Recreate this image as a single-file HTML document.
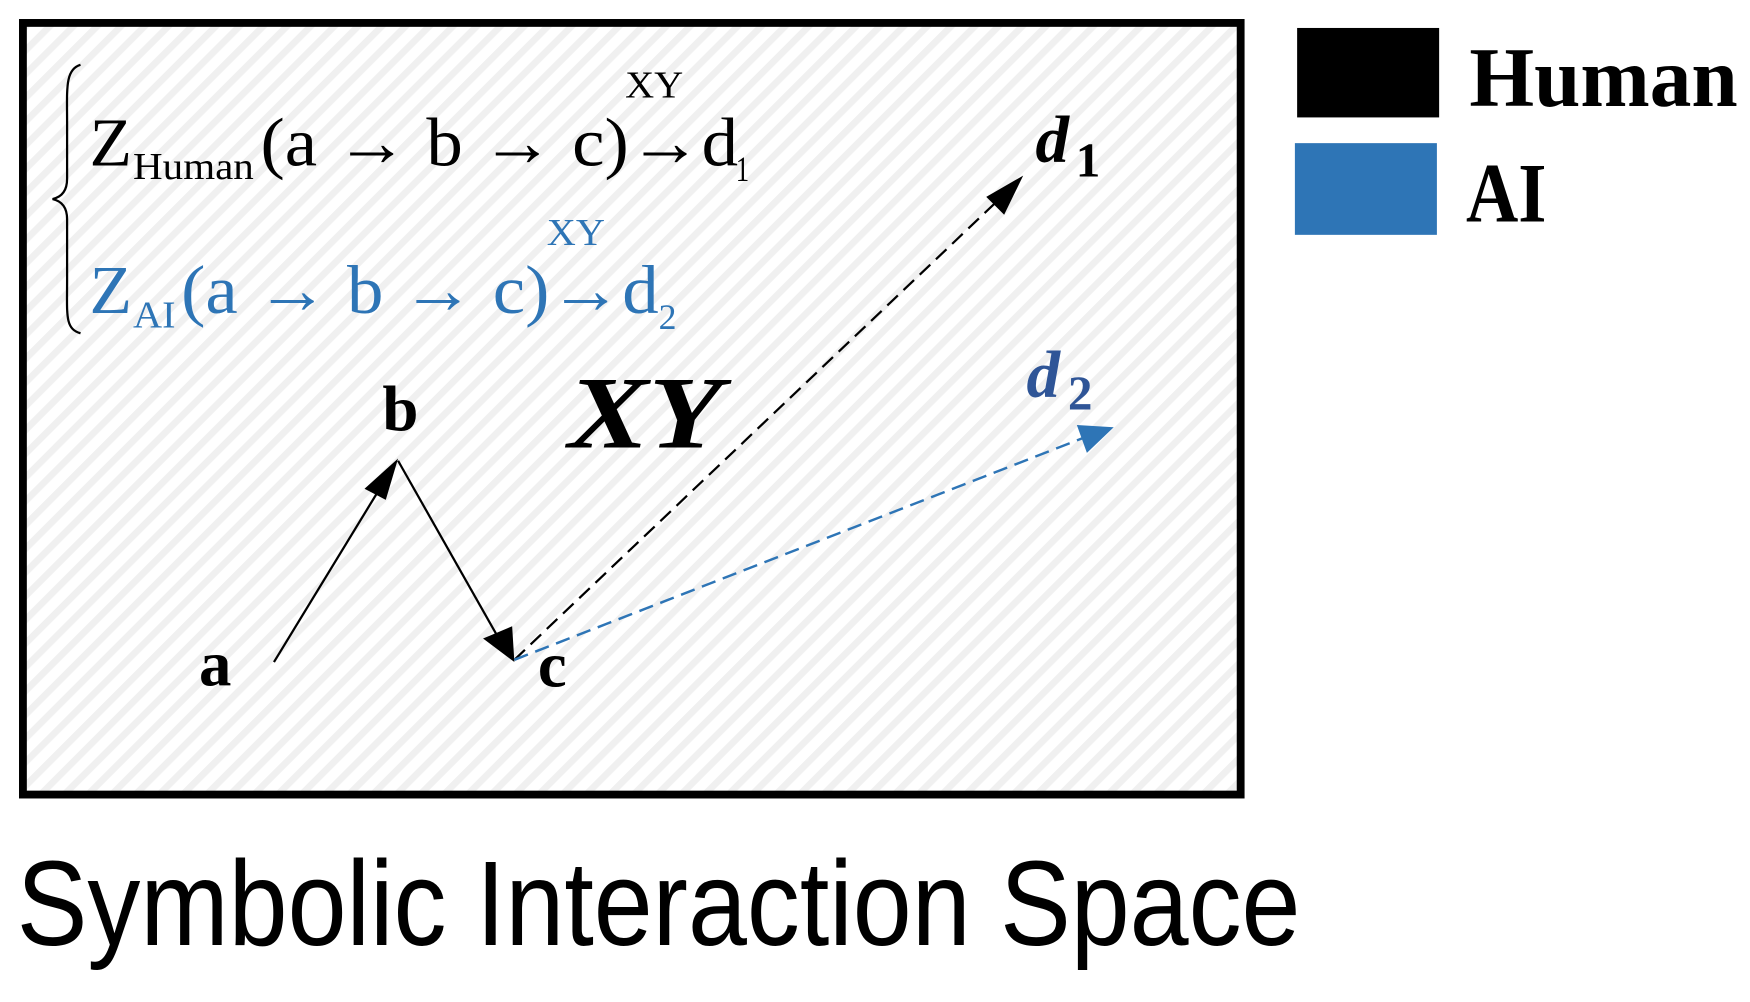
<!DOCTYPE html>
<html><head><meta charset="utf-8"><style>html,body{margin:0;padding:0;background:#fff}svg{display:block}</style></head>
<body>
<svg width="1750" height="1002" viewBox="0 0 1565 896" preserveAspectRatio="none" xmlns="http://www.w3.org/2000/svg">
<defs>
<pattern id="st" width="15" height="15" patternUnits="userSpaceOnUse" patternTransform="rotate(45)">
<rect width="15" height="15" fill="#fff"/><rect width="6" height="15" fill="#f0f0f0"/>
</pattern>
</defs>
<rect x="20.5" y="20.5" width="1089" height="690" fill="url(#st)" stroke="#000" stroke-width="7"/>
<!-- legend -->
<rect x="1160" y="25" width="127" height="80" fill="#000"/>
<rect x="1158" y="128" width="127" height="82" fill="#2e75b6"/>
<text x="1314" y="95" font-family="Liberation Serif, serif" font-weight="bold" font-size="76" textLength="240" lengthAdjust="spacingAndGlyphs">Human</text>
<text x="1311" y="198" font-family="Liberation Serif, serif" font-weight="bold" font-size="76" textLength="72" lengthAdjust="spacingAndGlyphs">AI</text>
<!-- brace -->
<path d="M72,58 C58,62 60,80 60,110 L60,160 C60,170 56,176 47,178 C56,180 60,186 60,196 L60,250 C60,282 58,294 72,298" fill="none" stroke="#000" stroke-width="2"/>
<!-- equations -->
<g font-family="Liberation Serif, serif">
<text x="80" y="148" font-size="62" textLength="38" lengthAdjust="spacingAndGlyphs">Z</text>
<text x="119" y="160" font-size="34" textLength="108" lengthAdjust="spacingAndGlyphs">Human</text>
<text x="233" y="148" font-size="62" textLength="427" lengthAdjust="spacingAndGlyphs">(a → b → c)→d</text>
<text x="658" y="162" font-size="32" textLength="12" lengthAdjust="spacingAndGlyphs">1</text>
<text x="559" y="87" font-size="34" textLength="52" lengthAdjust="spacingAndGlyphs">XY</text>
<g fill="#2e75b6">
<text x="80" y="280" font-size="62" textLength="38" lengthAdjust="spacingAndGlyphs">Z</text>
<text x="119" y="293" font-size="34" textLength="38" lengthAdjust="spacingAndGlyphs">AI</text>
<text x="162" y="280" font-size="62" textLength="427" lengthAdjust="spacingAndGlyphs">(a → b → c)→d</text>
<text x="589" y="294" font-size="32" textLength="16" lengthAdjust="spacingAndGlyphs">2</text>
<text x="489" y="219" font-size="34" textLength="52" lengthAdjust="spacingAndGlyphs">XY</text>
</g>
<text x="508" y="400" font-size="92" font-style="italic" font-weight="bold" textLength="138" lengthAdjust="spacingAndGlyphs">XY</text>
<text x="926" y="145" font-size="60" font-style="italic" font-weight="bold">d</text>
<text x="962" y="158" font-size="44" font-weight="bold">1</text>
<text x="918" y="355" font-size="60" font-style="italic" font-weight="bold" fill="#2f5597">d</text>
<text x="955" y="366" font-size="44" font-weight="bold" fill="#2f5597">2</text>
<text x="342" y="385" font-size="58" font-weight="bold">b</text>
<text x="178" y="613" font-size="58" font-weight="bold">a</text>
<text x="481" y="614" font-size="58" font-weight="bold">c</text>
</g>
<!-- arrows -->
<line x1="245" y1="592" x2="353" y2="415" stroke="#000" stroke-width="2"/>
<path d="M356,410 L326,437 L345,447z" fill="#000"/>
<line x1="356" y1="412" x2="454" y2="585" stroke="#000" stroke-width="2"/>
<path d="M460,592 L432,571 L458,560z" fill="#000"/>
<line x1="460" y1="590" x2="900" y2="172" stroke="#000" stroke-width="2" stroke-dasharray="13,7"/>
<path d="M915,157 L882,176 L898,192z" fill="#000"/>
<line x1="460" y1="590" x2="978" y2="388" stroke="#2e75b6" stroke-width="2.2" stroke-dasharray="13,7"/>
<path d="M996,382 L963,380 L972,405z" fill="#2e75b6"/>
<!-- title -->
<text x="15" y="845" font-family="Liberation Sans Narrow, Liberation Sans, sans-serif" font-size="108" textLength="1148" lengthAdjust="spacingAndGlyphs">Symbolic Interaction Space</text>
</svg>
</body></html>
